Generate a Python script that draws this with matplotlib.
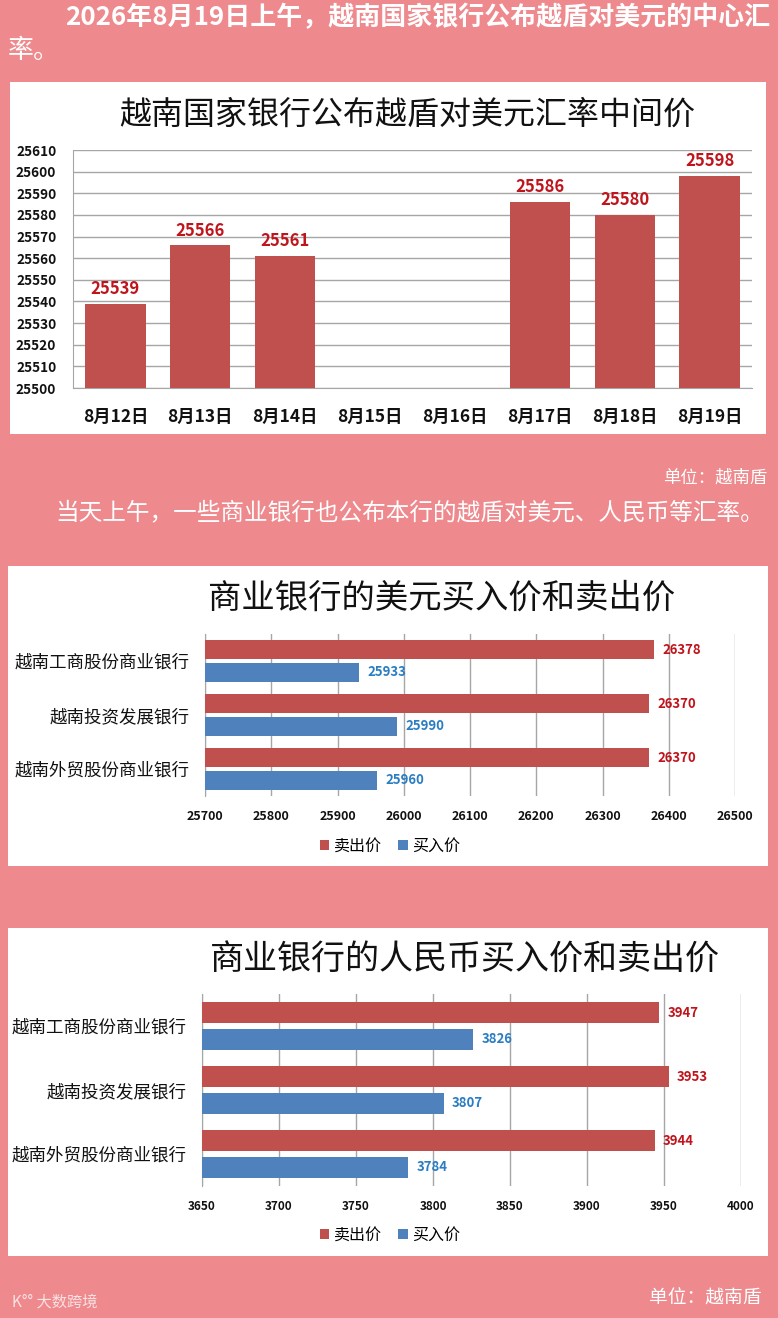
import matplotlib
matplotlib.use("Agg")
import matplotlib.pyplot as plt
from matplotlib.patches import Rectangle, Patch
import numpy as np

plt.rcParams["font.family"] = ["Noto Sans CJK SC", "DejaVu Sans"]

# ---- data ----
fechas = ["8月12日", "8月13日", "8月14日", "8月15日", "8月16日", "8月17日", "8月18日", "8月19日"]
tasa_central = [25539, 25566, 25561, None, None, 25586, 25580, 25598]

bancos = ["越南工商股份商业银行", "越南投资发展银行", "越南外贸股份商业银行"]
usd_venta = [26378, 26370, 26370]
usd_compra = [25933, 25990, 25960]
cny_venta = [3947, 3953, 3944]
cny_compra = [3826, 3807, 3784]

FONDO = "#EE898D"
ROJO = "#C0504D"
AZUL = "#4F81BD"
ROJO_TXT = "#C0141C"
AZUL_TXT = "#2A7DC2"
GRID = "#A6A6A6"

W, H = 778, 1318
fig = plt.figure(figsize=(W / 100, H / 100), dpi=100, facecolor=FONDO)


def fx(px):
    return px / W


def fy(py):
    return 1 - py / H


def ejes_px(left, top, right, bottom):
    return fig.add_axes([fx(left), fy(bottom), (right - left) / W, (bottom - top) / H])


def panel(left, top, right, bottom):
    fig.add_artist(Rectangle((fx(left), fy(bottom)), (right - left) / W, (bottom - top) / H,
                             transform=fig.transFigure, facecolor="white", edgecolor="none", zorder=-1))


# ---- textos de cabecera ----
fig.text(fx(65), fy(18), "2026年8月19日上午，越南国家银行公布越盾对美元的中心汇",
         color="white", fontsize=18.7, fontweight="bold", va="center", ha="left")
fig.text(fx(8), fy(50), "率。", color="white", fontsize=18.7, va="center", ha="left")

# ---- panel 1: tasa central ----
panel(10, 82, 766, 434)
fig.text(fx(407), fy(115), "越南国家银行公布越盾对美元汇率中间价", fontsize=23,
         color="#111111", ha="center", va="center")

ax1 = ejes_px(73, 150, 752, 388)
xs = np.arange(len(fechas))
idx = [i for i, v in enumerate(tasa_central) if v is not None]
vals = [tasa_central[i] for i in idx]
barras = ax1.bar(xs[idx], vals, width=0.71, color=ROJO, zorder=3)
for b, v in zip(barras, vals):
    ax1.annotate(f"{v}", (b.get_x() + b.get_width() / 2, v), xytext=(0, 4),
                 textcoords="offset points", ha="center", va="bottom",
                 color=ROJO_TXT, fontsize=12, fontweight="bold")
ax1.set_xlim(-0.5, len(fechas) - 0.5)
ax1.set_ylim(25500, 25610)
ax1.set_yticks(np.arange(25500, 25611, 10))
ax1.set_xticks(xs)
ax1.set_xticklabels(fechas, fontsize=12.5, fontweight="bold")
for t in ax1.get_yticklabels():
    t.set_fontweight("bold")
    t.set_fontsize(9.8)
ax1.tick_params(axis="y", length=0, pad=12, colors="#111111")
ax1.tick_params(axis="x", length=0, pad=14, colors="#111111")
ax1.grid(axis="y", color=GRID, linewidth=1, zorder=0)
for lado in ["top", "right"]:
    ax1.spines[lado].set_visible(False)
ax1.spines["left"].set_color(GRID)
ax1.spines["bottom"].set_color(GRID)

fig.text(fx(767), fy(478), "单位：越南盾", color="white", fontsize=12.5, ha="right", va="center")
fig.text(fx(55), fy(513), "当天上午，一些商业银行也公布本行的越盾对美元、人民币等汇率。",
         color="white", fontsize=17, ha="left", va="center")


def barras_h(ax, venta, compra, xmin, xmax, paso, fs_val, fs_tick):
    ys = np.arange(len(bancos))
    rv = ax.barh(ys - 0.21, venta, height=0.34, color=ROJO, zorder=3)
    rc = ax.barh(ys + 0.21, compra, height=0.34, color=AZUL, zorder=3)
    for b, v in zip(rv, venta):
        ax.annotate(f"{v}", (v, b.get_y() + b.get_height() / 2), xytext=(6, 0),
                    textcoords="offset points", va="center", ha="left",
                    color=ROJO_TXT, fontsize=fs_val, fontweight="bold")
    for b, v in zip(rc, compra):
        ax.annotate(f"{v}", (v, b.get_y() + b.get_height() / 2), xytext=(6, 0),
                    textcoords="offset points", va="center", ha="left",
                    color=AZUL_TXT, fontsize=fs_val, fontweight="bold")
    ax.set_xlim(xmin, xmax)
    ax.set_xticks(np.arange(xmin, xmax + 1, paso))
    for t in ax.get_xticklabels():
        t.set_fontweight("bold")
        t.set_fontsize(fs_tick)
    ax.set_ylim(2.5, -0.5)
    ax.set_yticks(ys)
    ax.set_yticklabels(bancos, fontsize=12.6)
    ax.tick_params(axis="y", length=0, pad=11, colors="#111111")
    ax.tick_params(axis="x", length=0, pad=10, colors="#111111")
    ax.grid(axis="x", color=GRID, linewidth=1, zorder=0)
    for lado in ["top", "right", "bottom"]:
        ax.spines[lado].set_visible(False)
    ax.spines["left"].set_color(GRID)


def leyenda(cx, cy):
    manejadores = [Patch(facecolor=ROJO), Patch(facecolor=AZUL)]
    fig.legend(manejadores, ["卖出价", "买入价"], loc="center", bbox_to_anchor=(fx(cx), fy(cy)),
               ncol=2, frameon=False, fontsize=11.5, handlelength=0.6, handleheight=0.6,
               handletextpad=0.3, columnspacing=1.0)


# ---- panel 2: USD ----
panel(8, 566, 768, 866)
fig.text(fx(442), fy(598), "商业银行的美元买入价和卖出价", fontsize=24,
         color="#111111", ha="center", va="center")
ax2 = ejes_px(205, 634, 735, 796)
barras_h(ax2, usd_venta, usd_compra, 25700, 26500, 100, 9.5, 9)
leyenda(390, 846)

# ---- panel 3: CNY ----
panel(8, 928, 768, 1256)
fig.text(fx(465), fy(960), "商业银行的人民币买入价和卖出价", fontsize=24.5,
         color="#111111", ha="center", va="center")
ax3 = ejes_px(202, 994, 741, 1186)
barras_h(ax3, cny_venta, cny_compra, 3650, 4000, 50, 9.5, 8.5)
leyenda(390, 1235)

# ---- pie ----
fig.text(fx(762), fy(1298), "单位：越南盾", color="white", fontsize=13.5, ha="right", va="center")
fig.text(fx(12), fy(1302), "K°° 大数跨境", color="white", alpha=0.75, fontsize=11, ha="left", va="center")

fig.savefig("out.png", dpi=100, facecolor=FONDO)
